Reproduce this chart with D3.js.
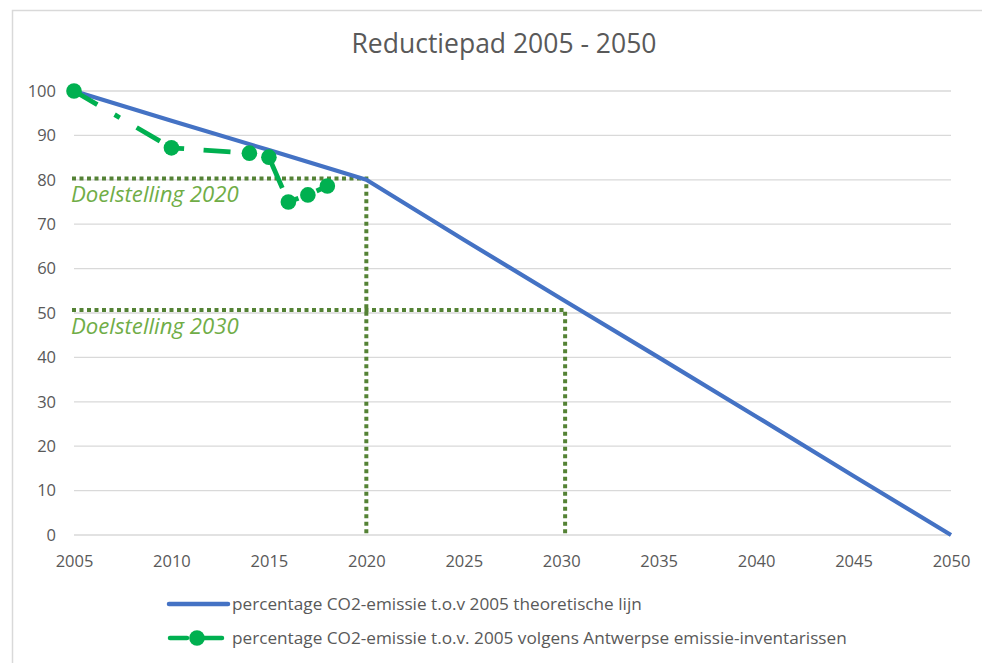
<!DOCTYPE html>
<html>
<head>
<meta charset="utf-8">
<script src="https://cdn.jsdelivr.net/npm/d3@7"></script>
<style>
  body { margin: 0; background: #fff; }
  text { font-family: "Open Sans", "Liberation Sans", sans-serif; }
</style>
</head>
<body>
<div id="chart"></div>
<script>
var width = 982,
    height = 663;

// theoretical reduction path
var theoryYears = [2005, 2010, 2015, 2020, 2025, 2030, 2035, 2040, 2045, 2050];
var theoryValues = [100, 93.3, 86.7, 80, 66.5, 53.2, 40, 26.7, 13.3, 0];

// measured emission inventories
var inventoryYears = [2005, 2010, 2014, 2015, 2016, 2017, 2018];
var inventoryValues = [100, 87.2, 86, 85.1, 75, 76.6, 78.6];

// targets
var targetYears = [2020, 2030.2];
var targetValues = [80.3, 50.7];
var targetLabels = ["Doelstelling 2020", "Doelstelling 2030"];

var xTicks = [2005, 2010, 2015, 2020, 2025, 2030, 2035, 2040, 2045, 2050];
var yTicks = [0, 10, 20, 30, 40, 50, 60, 70, 80, 90, 100];

var legendLabels = [
    "percentage CO2-emissie t.o.v 2005 theoretische lijn",
    "percentage CO2-emissie t.o.v. 2005 volgens Antwerpse emissie-inventarissen"
];

var x = d3.scaleLinear()
    .domain([2005, 2050])
    .range([74, 951]);

var y = d3.scaleLinear()
    .domain([0, 100])
    .range([535, 91]);

var svg = d3.select("#chart")
    .append("svg")
    .attr("width", width)
    .attr("height", height);

// chart frame
svg.append("rect")
    .attr("x", 12.5)
    .attr("y", 10.5)
    .attr("width", 990)
    .attr("height", 700)
    .attr("fill", "#fff")
    .attr("stroke", "#d9d9d9")
    .attr("stroke-width", 1.5);

svg.append("text")
    .attr("x", 504)
    .attr("y", 53)
    .attr("text-anchor", "middle")
    .attr("font-size", "26.5px")
    .attr("fill", "#595959")
    .text("Reductiepad 2005 - 2050");

// gridlines
svg.append("g")
    .selectAll("line")
    .data(yTicks)
    .enter()
    .append("line")
    .attr("x1", x(2005))
    .attr("x2", x(2050))
    .attr("y1", function(d) { return y(d); })
    .attr("y2", function(d) { return y(d); })
    .attr("stroke", "#d9d9d9")
    .attr("stroke-width", 1.3);

var yAxis = svg.append("g")
    .attr("transform", "translate(56,0)")
    .call(d3.axisLeft(y).tickValues(yTicks).tickSize(0).tickPadding(0));

var xAxis = svg.append("g")
    .attr("transform", "translate(0," + (y(0) + 12) + ")")
    .call(d3.axisBottom(x).tickValues(xTicks).tickFormat(d3.format("d")).tickSize(0).tickPadding(8));

[yAxis, xAxis].forEach(function(ax) {
    ax.select(".domain").remove();
    ax.selectAll("text")
        .attr("font-size", "16.5px")
        .attr("fill", "#595959")
        .style("font-family", "'Open Sans', sans-serif");
});

// target dotted lines
var dotted = svg.append("g")
    .attr("stroke", "#548235")
    .attr("stroke-width", 4)
    .attr("stroke-dasharray", "4,3.5")
    .attr("fill", "none");

targetYears.forEach(function(yr, i) {
    dotted.append("path")
        .attr("d", d3.line()([[x(2005) - 2, y(targetValues[i])], [x(yr), y(targetValues[i])], [x(yr), y(0)]]));
});

svg.selectAll(".target-label")
    .data(targetLabels)
    .enter()
    .append("text")
    .attr("class", "target-label")
    .attr("x", 71)
    .attr("y", function(d, i) { return y(targetValues[i]) + 24; })
    .attr("font-size", "22.2px")
    .attr("font-style", "italic")
    .attr("fill", "#70ad47")
    .text(function(d) { return d; });

var line = d3.line()
    .x(function(d) { return x(d[0]); })
    .y(function(d) { return y(d[1]); });

svg.append("path")
    .datum(d3.zip(theoryYears, theoryValues))
    .attr("d", line)
    .attr("fill", "none")
    .attr("stroke", "#4472c4")
    .attr("stroke-width", 4.2)
    .attr("stroke-linejoin", "round");

var inventory = d3.zip(inventoryYears, inventoryValues);

// long dash - dot
svg.append("path")
    .datum(inventory)
    .attr("d", line)
    .attr("fill", "none")
    .attr("stroke", "#00b050")
    .attr("stroke-width", 4.8)
    .attr("stroke-dasharray", "27,20,6,19.5");

svg.append("g")
    .selectAll("circle")
    .data(inventory)
    .enter()
    .append("circle")
    .attr("cx", function(d) { return x(d[0]); })
    .attr("cy", function(d) { return y(d[1]); })
    .attr("r", 7.8)
    .attr("fill", "#00b050");

// legend
var legend = svg.append("g");

legend.append("line")
    .attr("x1", 169).attr("x2", 228)
    .attr("y1", 604).attr("y2", 604)
    .attr("stroke", "#4472c4")
    .attr("stroke-width", 4.5)
    .attr("stroke-linecap", "round");

legend.append("line")
    .attr("x1", 170).attr("x2", 222)
    .attr("y1", 638).attr("y2", 638)
    .attr("stroke", "#00b050")
    .attr("stroke-width", 4.5)
    .attr("stroke-linecap", "round")
    .attr("stroke-dasharray", "17,15,22");

legend.append("circle")
    .attr("cx", 197).attr("cy", 638)
    .attr("r", 7.8)
    .attr("fill", "#00b050");

legend.selectAll("text")
    .data(legendLabels)
    .enter()
    .append("text")
    .attr("x", 232)
    .attr("y", function(d, i) { return 610 + i * 34; })
    .attr("font-size", "17.2px")
    .attr("fill", "#595959")
    .text(function(d) { return d; });
</script>
</body>
</html>
